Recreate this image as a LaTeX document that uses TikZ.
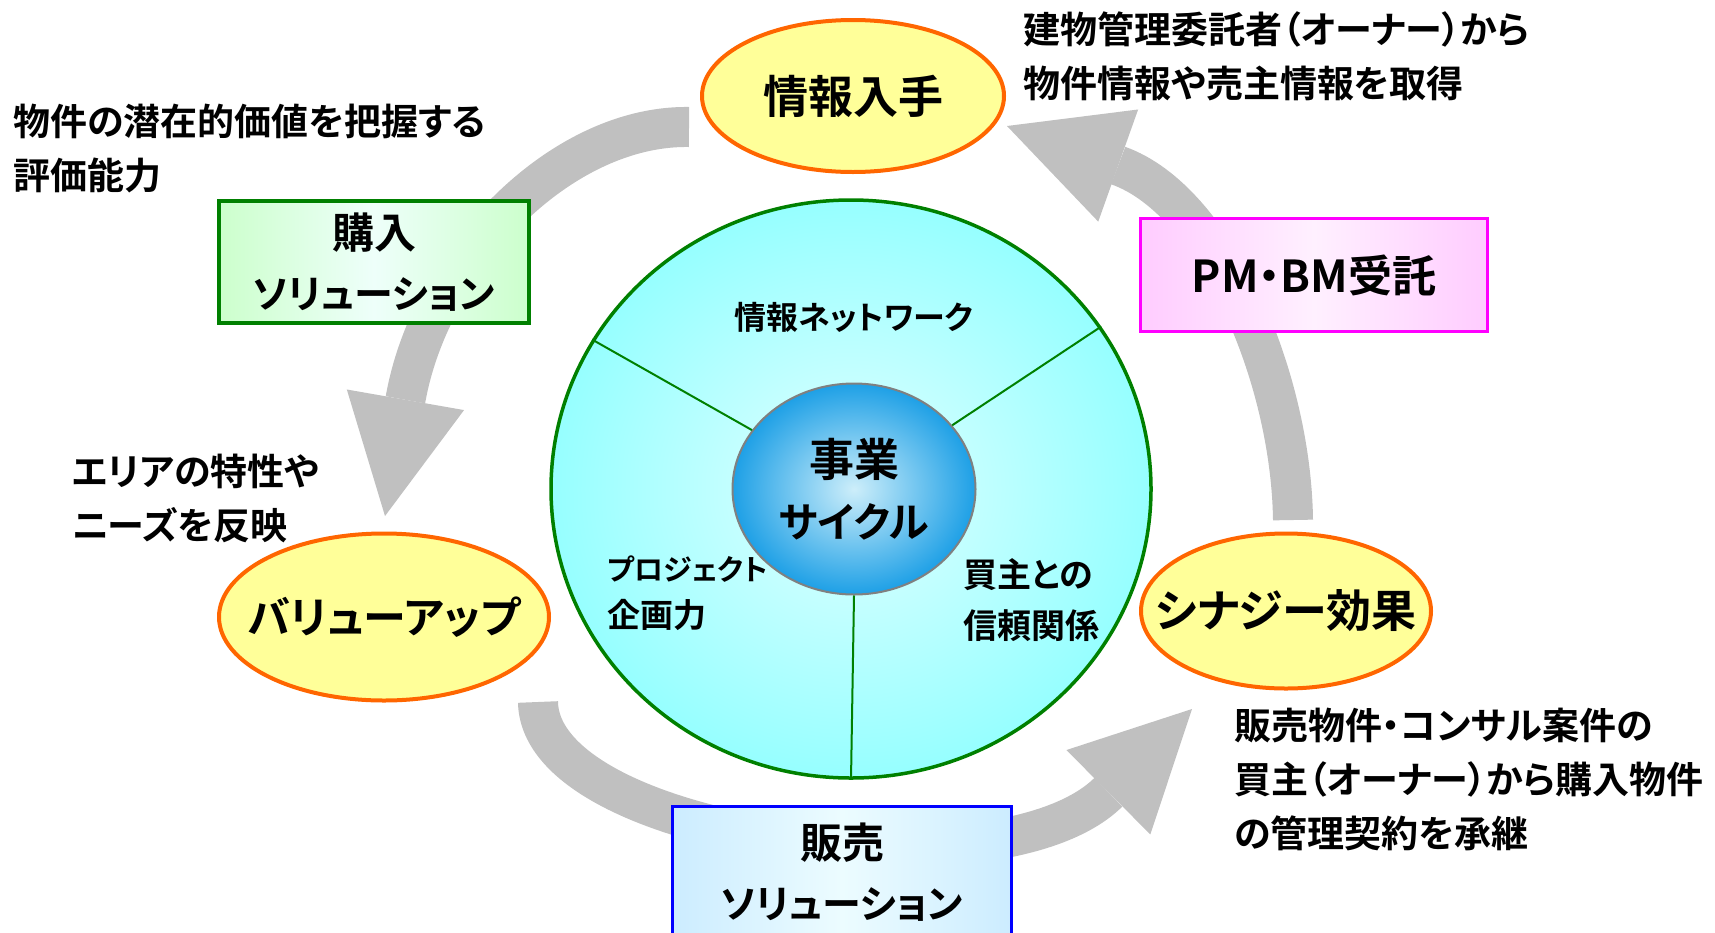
\documentclass[tikz,border=0pt]{standalone}
\usepackage{fontspec}
\setmainfont{Noto Sans CJK JP}[UprightFont=* Bold, RawFeature=+palt]
\usetikzlibrary{shapes.geometric,arrows.meta,positioning}

\definecolor{arrowgray}{RGB}{192,192,192}
\definecolor{ellfill}{RGB}{255,255,153}
\definecolor{ellline}{RGB}{255,102,0}
\definecolor{cycline}{RGB}{0,128,0}
\definecolor{cycin}{RGB}{225,255,255}
\definecolor{cycout}{RGB}{150,255,255}
\definecolor{corein}{RGB}{205,238,250}
\definecolor{coreout}{RGB}{30,160,230}
\definecolor{buyside}{RGB}{204,255,204}
\definecolor{buymid}{RGB}{238,255,250}
\definecolor{pmline}{RGB}{255,0,255}
\definecolor{pmside}{RGB}{255,204,255}
\definecolor{pmmid}{RGB}{255,240,255}
\definecolor{sellline}{RGB}{0,0,255}
\definecolor{sellside}{RGB}{204,236,255}
\definecolor{sellmid}{RGB}{236,252,255}

\newcommand{\kanasize}{\fontsize{39}{60}\selectfont}

\tikzstyle{bigarrow} = [draw=arrowgray, line width=40pt, -{Triangle[length=118pt, width=119pt, line width=0pt]}]
\tikzstyle{stage} = [ellipse, draw=ellline, line width=4pt, fill=ellfill, inner ysep=0pt, inner xsep=-30pt, font=\fontsize{45}{54}\selectfont]
\tikzstyle{solution} = [rectangle, line width=3.5pt, inner sep=0pt, align=center, font=\fontsize{42}{60}\selectfont]
\tikzstyle{note} = [inner sep=0pt, anchor=north west, align=left, font=\fontsize{37}{54}\selectfont]
\tikzstyle{part} = [inner sep=0pt, align=left, font=\fontsize{33}{47}\selectfont]

\begin{document}
\begin{tikzpicture}[x=1pt, y=-1pt]
    \clip (0,0) rectangle (1715,932);
    \fill[white] (0,0) rectangle (1715,932);

        % Define arrow ends
        \coordinate (buyfrom) at (689,127);
        \coordinate (buyto) at (385,516);
        \coordinate (sellfrom) at (538,702);
        \coordinate (sellto) at (1192,709);
        \coordinate (pmfrom) at (1293,520);
        \coordinate (pmto) at (1007,126);

        % Draw gray cycle arrows
        \draw[bigarrow] (buyfrom) .. controls (560,125) and (430,260) .. (buyto);
        \draw[bigarrow] (sellfrom) .. controls (540,840) and (1000,900) .. (sellto);
        \draw[bigarrow] (pmfrom) .. controls (1291,375) and (1215,200) .. (pmto);

        % Define stage nodes
        \node[stage, minimum width=302pt, minimum height=152pt] (info) at (853,96) {情報入手};
        \node[stage, minimum width=330pt, minimum height=167pt, font=\fontsize{43}{54}\selectfont] (value) at (384,617) {バリューアップ};
        \node[stage, minimum width=290pt, minimum height=155pt] (synergy) at (1286,611) {シナジー効果};

        % Business cycle circle
        \node[ellipse, draw=cycline, line width=3.5pt, inner color=cycin, outer color=cycout, minimum width=600pt, minimum height=578pt] (cyc) at (851,489) {};
        \node[ellipse, draw=gray, line width=2pt, inner color=corein, outer color=coreout, minimum width=243pt, minimum height=211pt, align=center, font=\fontsize{45}{61}\selectfont] (core) at (854,489) {事業\\{\fontsize{41}{61}\selectfont サイクル}};

        \foreach \a in {150, 33, 270} {
            \draw[cycline, line width=2pt] (core.\a) -- (cyc.\a);
        }

        \node[part, font=\fontsize{32}{47}\selectfont] (net) at (854,317) {情報ネットワーク};
        \node[part, anchor=north west] (plan) at (607,556) {{\fontsize{29}{47}\selectfont プロジェクト}\\企画力};
        \node[part, anchor=north west, font=\fontsize{34}{51}\selectfont] (trust) at (963,558) {買主との\\信頼関係};

        % Solution boxes
        \node[solution, draw=cycline, left color=buyside, right color=buyside, middle color=buymid, minimum width=310pt, minimum height=122pt] (buy) at (374,262) {購入\\{\kanasize ソリューション}};
        \node[solution, draw=pmline, left color=pmside, right color=pmside, middle color=pmmid, minimum width=347pt, minimum height=113pt, font=\fontsize{44}{60}\selectfont] (pm) at (1314,275) {PM・BM受託};
        \node[solution, draw=sellline, left color=sellside, right color=sellside, middle color=sellmid, minimum width=339pt, minimum height=131pt] (sell) at (842,872) {販売\\{\kanasize ソリューション}};

        % Notes
        \node[note] (evalnote) at (13,104) {物件の潜在的価値を把握する\\評価能力};
        \node[note] (infonote) at (1023,11) {建物管理委託者（オーナー）から\\物件情報や売主情報を取得};
        \node[note] (areanote) at (72,454) {エリアの特性や\\ニーズを反映};
        \node[note] (contractnote) at (1234,708) {販売物件・コンサル案件の\\買主（オーナー）から購入物件\\の管理契約を承継};

\end{tikzpicture}
\end{document}
